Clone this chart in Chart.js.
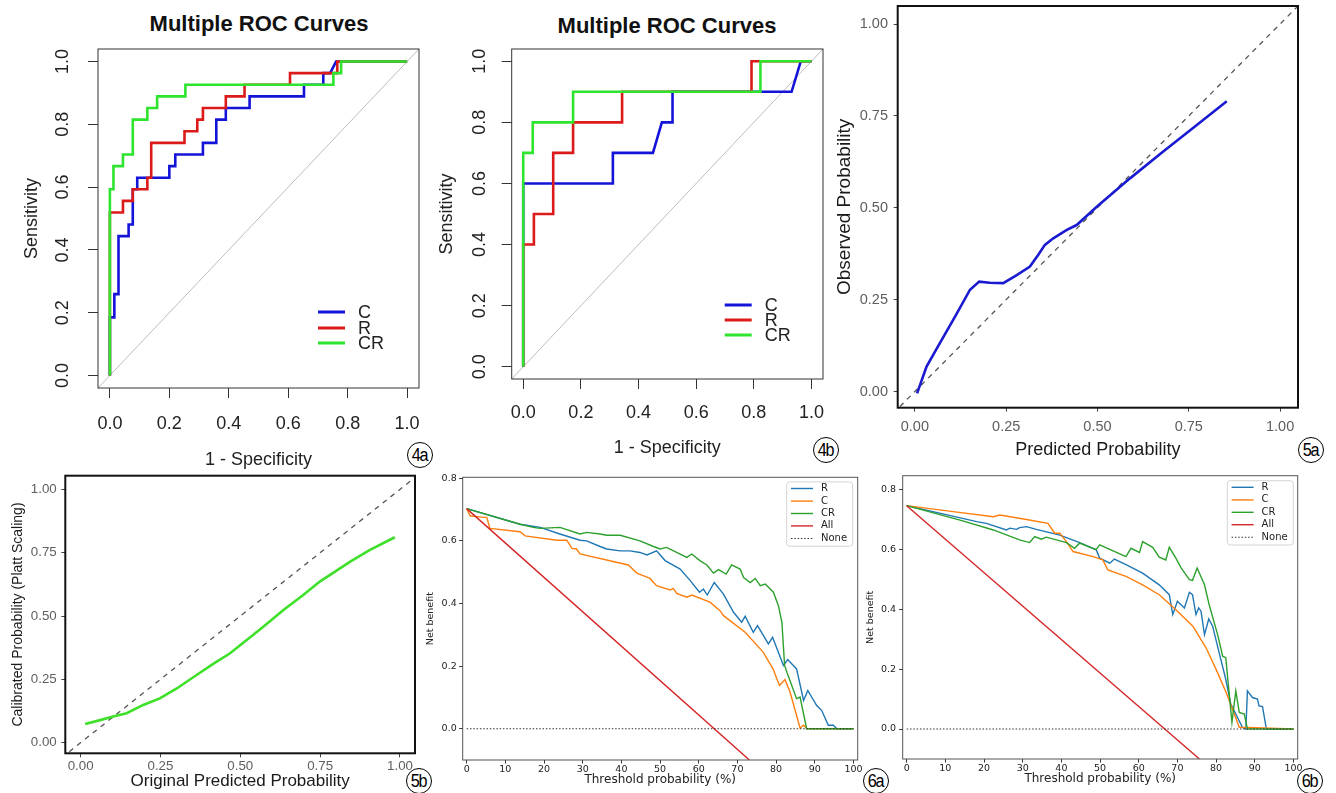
<!DOCTYPE html>
<html>
<head>
<meta charset="utf-8">
<script src="https://cdn.jsdelivr.net/npm/chart.js@4.4.0/dist/chart.umd.min.js"></script>
<style>
  html, body { margin: 0; padding: 0; background: #fff; }
  body { width: 1336px; height: 793px; position: relative; overflow: hidden; font-family: "Liberation Sans", Arial, sans-serif; }
  canvas { position: absolute; }
  .title { position: absolute; font-weight: bold; font-size: 22px; color: #111; white-space: nowrap; transform: translate(-50%, -50%); }
  .tag { position: absolute; width: 26px; height: 26px; border: 1.6px solid #000; border-radius: 50%; box-sizing: border-box;
         transform: translate(-50%, -50%); display: flex; align-items: center; justify-content: center;
         font-size: 18px; letter-spacing: -1.5px; color: #000; background: #fff; }
  .tag span { display: inline-block; transform: scaleX(0.9); margin-left: -1px; }
</style>
</head>
<body>
<div class="title" style="left:259px; top:24px;">Multiple ROC Curves</div>
<div class="title" style="left:667px; top:26px;">Multiple ROC Curves</div>
<div class="tag" style="left:420px; top:455px;"><span>4a</span></div>
<div class="tag" style="left:826px; top:450px;"><span>4b</span></div>
<div class="tag" style="left:1311px; top:450px;"><span>5a</span></div>
<div class="tag" style="left:419px; top:781px;"><span>5b</span></div>
<div class="tag" style="left:876px; top:781px;"><span>6a</span></div>
<div class="tag" style="left:1310px; top:781px;"><span>6b</span></div>
<script>
// ---- data ----
// 4a ROC (1 - specificity, sensitivity)
const roc4aC_fpr = [0, 0, 0.015, 0.015, 0.029, 0.029, 0.063, 0.063, 0.077, 0.077, 0.092, 0.092, 0.2, 0.2, 0.22, 0.22, 0.313, 0.313, 0.358, 0.358, 0.39, 0.39, 0.47, 0.47, 0.653, 0.653, 0.718, 0.718, 0.741, 0.761, 1];
const roc4aC_tpr = [0, 0.185, 0.185, 0.259, 0.259, 0.444, 0.444, 0.481, 0.481, 0.593, 0.593, 0.63, 0.63, 0.667, 0.667, 0.704, 0.704, 0.741, 0.741, 0.815, 0.815, 0.852, 0.852, 0.889, 0.889, 0.926, 0.926, 0.963, 0.963, 1, 1];
const roc4aR_fpr = [0, 0, 0.044, 0.044, 0.077, 0.077, 0.126, 0.126, 0.139, 0.139, 0.251, 0.251, 0.294, 0.294, 0.313, 0.313, 0.39, 0.39, 0.453, 0.453, 0.606, 0.606, 0.765, 0.765, 1];
const roc4aR_tpr = [0, 0.519, 0.519, 0.556, 0.556, 0.593, 0.593, 0.63, 0.63, 0.741, 0.741, 0.778, 0.778, 0.815, 0.815, 0.852, 0.852, 0.889, 0.889, 0.926, 0.926, 0.963, 0.963, 1, 1];
const roc4aCR_fpr = [0, 0, 0.012, 0.012, 0.044, 0.044, 0.077, 0.077, 0.126, 0.126, 0.159, 0.159, 0.254, 0.254, 0.752, 0.752, 0.778, 0.778, 1];
const roc4aCR_tpr = [0, 0.593, 0.593, 0.667, 0.667, 0.704, 0.704, 0.815, 0.815, 0.852, 0.852, 0.889, 0.889, 0.926, 0.926, 0.963, 0.963, 1, 1];

// 4b ROC
const roc4bC_fpr = [0, 0, 0.311, 0.311, 0.45, 0.481, 0.518, 0.518, 0.931, 0.963, 1];
const roc4bC_tpr = [0, 0.6, 0.6, 0.7, 0.7, 0.8, 0.8, 0.9, 0.9, 1, 1];
const roc4bR_fpr = [0, 0, 0.037, 0.037, 0.104, 0.104, 0.173, 0.173, 0.343, 0.343, 0.792, 0.792, 1];
const roc4bR_tpr = [0, 0.4, 0.4, 0.5, 0.5, 0.7, 0.7, 0.8, 0.8, 0.9, 0.9, 1, 1];
const roc4bCR_fpr = [0, 0, 0.033, 0.033, 0.173, 0.173, 0.823, 0.823, 1];
const roc4bCR_tpr = [0, 0.7, 0.7, 0.8, 0.8, 0.9, 0.9, 1, 1];

const rocTicks = [0, 0.2, 0.4, 0.6, 0.8, 1];
const rocDiag = [-0.04, 1.04];
const rocLabels = ['C', 'R', 'CR'];

// 5a calibration
const cal5a_pred = [0.006, 0.032, 0.068, 0.11, 0.151, 0.176, 0.205, 0.242, 0.279, 0.315, 0.338, 0.356, 0.379, 0.416, 0.443, 0.498, 0.589, 0.68, 0.772, 0.854];
const cal5a_obs = [-0.005, 0.068, 0.131, 0.204, 0.277, 0.299, 0.296, 0.295, 0.317, 0.34, 0.372, 0.399, 0.417, 0.44, 0.453, 0.503, 0.58, 0.653, 0.725, 0.79];

// 5b Platt scaling
const platt5b_orig = [0.014, 0.061, 0.102, 0.144, 0.196, 0.248, 0.301, 0.363, 0.415, 0.468, 0.52, 0.572, 0.635, 0.697, 0.749, 0.843, 0.906, 0.984];
const platt5b_cal = [0.074, 0.089, 0.103, 0.116, 0.149, 0.175, 0.214, 0.267, 0.311, 0.353, 0.405, 0.458, 0.524, 0.583, 0.636, 0.714, 0.761, 0.811];

const calTicks = [0, 0.25, 0.5, 0.75, 1];
const calDiag = [-0.06, 1.06];

// 6a decision curves (threshold %, net benefit)
const dca6aR_thr = [0, 13.8, 19, 24.1, 29.3, 31, 34.5, 36.2, 39.7, 42.2, 44.8, 46.6, 49.1, 51.3, 55.2, 57.8, 60.2, 61.2, 62.2, 64, 66.4, 69, 71.1, 72, 74.1, 75.2, 78, 79.1, 81.9, 83, 85.3, 87.1, 88.2, 90.5, 91.8, 93.5, 94.8, 95.7, 100];
const dca6aR_nb = [0.703, 0.653, 0.643, 0.622, 0.602, 0.6, 0.582, 0.574, 0.568, 0.568, 0.563, 0.555, 0.568, 0.537, 0.51, 0.473, 0.436, 0.446, 0.427, 0.467, 0.43, 0.372, 0.34, 0.359, 0.308, 0.329, 0.271, 0.292, 0.202, 0.221, 0.191, 0.09, 0.122, 0.074, 0.058, 0.011, 0.011, 0, 0];
const dca6aC_thr = [0, 0.9, 4.3, 5.2, 6, 13.8, 15.1, 23.3, 25.9, 27.2, 28.4, 29.3, 41.8, 44, 47.4, 49.1, 52.6, 53.4, 54.3, 56.9, 58.2, 62.9, 65.5, 66.4, 72, 76.7, 79.3, 80.2, 80.9, 82.3, 83.6, 85.3, 86.2, 87.1, 88, 100];
const dca6aC_nb = [0.703, 0.68, 0.675, 0.675, 0.64, 0.629, 0.616, 0.602, 0.602, 0.576, 0.574, 0.558, 0.523, 0.497, 0.48, 0.457, 0.443, 0.448, 0.432, 0.42, 0.427, 0.404, 0.377, 0.361, 0.308, 0.244, 0.189, 0.159, 0.138, 0.157, 0.117, 0.042, 0.002, 0.011, 0, 0];
const dca6aCR_thr = [0, 13.8, 17.2, 19, 24.1, 29.3, 31, 34.5, 36.2, 39.7, 44.8, 48.3, 50, 51.7, 56.9, 58.2, 60.3, 62.1, 63.8, 65.1, 67.1, 68.5, 70.7, 71.6, 73.3, 74.6, 75.9, 77.2, 79.3, 80.6, 81.5, 82.2, 82.8, 85.3, 86.2, 87.9, 100];
const dca6aCR_nb = [0.703, 0.653, 0.643, 0.64, 0.643, 0.622, 0.627, 0.622, 0.618, 0.618, 0.6, 0.582, 0.574, 0.579, 0.547, 0.558, 0.537, 0.523, 0.497, 0.508, 0.494, 0.523, 0.51, 0.483, 0.467, 0.48, 0.457, 0.462, 0.436, 0.393, 0.34, 0.202, 0.18, 0.096, 0.101, 0, 0];
const dca6aAll_thr = [0, 73.1];
const dca6aAll_nb = [0.703, -0.1];

// 6b decision curves
const dca6bR_thr = [0, 18.1, 20.6, 25.8, 26.7, 28.4, 29.2, 31, 33.5, 39.6, 44.7, 49, 49.9, 52.5, 53.7, 56.7, 61, 65.3, 67.9, 68.8, 70, 71.8, 73.1, 73.9, 74.8, 75.5, 76.1, 77, 78.1, 79.1, 80.8, 82.5, 83.8, 86.8, 87.7, 88.1, 89.4, 90.7, 91.1, 92, 93, 100];
const dca6bR_nb = [0.745, 0.692, 0.686, 0.664, 0.67, 0.666, 0.672, 0.675, 0.666, 0.647, 0.622, 0.598, 0.57, 0.553, 0.567, 0.548, 0.52, 0.481, 0.448, 0.382, 0.426, 0.404, 0.456, 0.448, 0.382, 0.404, 0.393, 0.315, 0.367, 0.343, 0.254, 0.166, 0.083, 0.006, 0, 0.127, 0.105, 0.1, 0.077, 0.075, 0, 0];
const dca6bC_thr = [0, 12, 22.4, 24.1, 31, 36.5, 38.3, 39.6, 41.3, 43, 48.2, 50.7, 52, 56.7, 61, 65.3, 69.6, 74, 77.4, 80, 82.6, 84.7, 86, 100];
const dca6bC_nb = [0.745, 0.725, 0.708, 0.714, 0.699, 0.686, 0.653, 0.653, 0.625, 0.592, 0.575, 0.564, 0.531, 0.509, 0.481, 0.448, 0.398, 0.343, 0.271, 0.199, 0.122, 0.05, 0.006, 0];
const dca6bCR_thr = [0, 13.8, 22.4, 29.2, 31.8, 33.1, 34.8, 36.1, 41.3, 43.4, 44.7, 49, 49.9, 56.7, 58, 60.2, 61, 63.6, 65.3, 67, 67.9, 69.6, 71, 73.1, 73.9, 75.1, 77, 78.2, 80.4, 81.7, 82.5, 84.1, 85.1, 86, 87.3, 88.1, 100];
const dca6bCR_nb = [0.745, 0.697, 0.664, 0.631, 0.622, 0.642, 0.633, 0.64, 0.622, 0.603, 0.62, 0.598, 0.614, 0.575, 0.603, 0.589, 0.625, 0.606, 0.573, 0.564, 0.606, 0.57, 0.537, 0.498, 0.496, 0.537, 0.481, 0.415, 0.315, 0.243, 0.238, 0.022, 0.127, 0.055, 0.05, 0, 0];
const dca6bAll_thr = [0, 75.7];
const dca6bAll_nb = [0.745, -0.1];

const dcaNone_thr = [0, 100];
const dcaNone_nb = [0, 0];
const dcaXTicks = [0, 10, 20, 30, 40, 50, 60, 70, 80, 90, 100];
const dcaYTicks = [0, 0.2, 0.4, 0.6, 0.8];
const dcaLabels = ['R', 'C', 'CR', 'All', 'None'];

// ---- drawing ----
const FONT_R = '"Liberation Sans", Arial, sans-serif';
const FONT_MPL = '"DejaVu Sans", sans-serif';

const pts = (xs, ys) => xs.map((x, i) => ({ x: x, y: ys[i] }));

function line(label, xs, ys, color, width, order, extra) {
  return Object.assign({
    label: label, data: pts(xs, ys), showLine: true, borderColor: color, backgroundColor: color,
    borderWidth: width, pointRadius: 0, fill: false, order: order
  }, extra || {});
}

function axis(o) {
  return {
    type: 'linear', position: o.pos, min: o.min, max: o.max,
    afterBuildTicks: s => { s.ticks = o.ticks.map(v => ({ value: v })); },
    afterFit: s => {
      if (o.pos === 'bottom') s.height = o.size; else s.width = o.size;
      s.paddingLeft = s.paddingRight = s.paddingTop = s.paddingBottom = 0;
    },
    border: { display: false },
    grid: { drawOnChartArea: false, drawTicks: true, tickLength: o.tickLen, tickColor: o.tickColor, tickWidth: 1, color: o.tickColor },
    ticks: {
      display: !o.sideways, autoSkip: false, padding: o.tickPad || 0, color: o.labelColor,
      font: { family: o.family, size: o.labelSize }, minRotation: 0, maxRotation: 0,
      callback: v => v.toFixed(o.dec)
    },
    title: {
      display: true, text: o.title, color: o.titleColor || '#111',
      font: { family: o.family, size: o.titleSize }, padding: { top: o.titlePad, bottom: o.titlePad }
    }
  };
}

const framePlugin = {
  id: 'frame',
  afterDatasetsDraw(chart, args, o) {
    const { ctx, chartArea: a } = chart;
    ctx.save();
    ctx.strokeStyle = o.color;
    ctx.lineWidth = o.width;
    ctx.strokeRect(a.left, a.top, a.right - a.left, a.bottom - a.top);
    ctx.restore();
  }
};

// R draws y tick labels parallel to the axis, reading upwards
const sideLabelsPlugin = {
  id: 'sideLabels',
  afterDraw(chart, args, o) {
    if (!o || !o.dist) return;
    const { ctx, chartArea: a } = chart;
    const s = chart.scales.y;
    ctx.save();
    ctx.font = o.size + 'px ' + FONT_R;
    ctx.fillStyle = '#222';
    ctx.textAlign = 'center';
    ctx.textBaseline = 'middle';
    s.ticks.forEach(t => {
      ctx.save();
      ctx.translate(a.left - o.dist, s.getPixelForValue(t.value));
      ctx.rotate(-Math.PI / 2);
      ctx.fillText(t.value.toFixed(1), 0, 0);
      ctx.restore();
    });
    ctx.restore();
  }
};

// R style legend: plain line segments and text inside the plot
const rLegendPlugin = {
  id: 'rLegend',
  afterDatasetsDraw(chart, args, o) {
    if (!o || !o.rows) return;
    const { ctx, chartArea: a } = chart;
    const items = chart.data.datasets.filter(d => d.inKey);
    ctx.save();
    ctx.font = o.size + 'px ' + FONT_R;
    ctx.textBaseline = 'middle';
    ctx.textAlign = 'left';
    items.forEach((d, i) => {
      const y = a.top + o.rows[i];
      ctx.strokeStyle = d.borderColor;
      ctx.lineWidth = o.lineWidth;
      ctx.beginPath(); ctx.moveTo(a.left + o.x0, y); ctx.lineTo(a.left + o.x1, y); ctx.stroke();
      ctx.fillStyle = '#222';
      ctx.fillText(d.label, a.left + o.tx, y + 1);
    });
    ctx.restore();
  }
};

// matplotlib style legend box in the upper right corner
const mplLegendPlugin = {
  id: 'mplLegend',
  afterDatasetsDraw(chart, args, o) {
    if (!o || !o.w) return;
    const { ctx, chartArea: a } = chart;
    const bx = a.right - o.right - o.w, by = a.top + o.top;
    ctx.save();
    ctx.beginPath();
    ctx.roundRect(bx, by, o.w, o.h, 3);
    ctx.fillStyle = 'rgba(255,255,255,0.85)';
    ctx.fill();
    ctx.strokeStyle = '#d4d4d4';
    ctx.lineWidth = 1;
    ctx.stroke();
    ctx.font = o.size + 'px ' + FONT_MPL;
    ctx.textBaseline = 'middle';
    chart.data.datasets.forEach((d, i) => {
      const y = by + o.rows[i];
      ctx.strokeStyle = d.borderColor;
      ctx.lineWidth = d.borderWidth;
      ctx.setLineDash(d.borderDash || []);
      ctx.beginPath(); ctx.moveTo(bx + o.x0, y); ctx.lineTo(bx + o.x1, y); ctx.stroke();
      ctx.setLineDash([]);
      ctx.fillStyle = '#222';
      ctx.fillText(d.label, bx + o.tx, y);
    });
    ctx.restore();
  }
};

function panel(p) {
  const [rx, ry, rw, rh] = p.rect;
  const [bl, bt, br, bb] = p.box;
  const cv = document.createElement('canvas');
  cv.width = rw; cv.height = rh;
  cv.style.left = rx + 'px'; cv.style.top = ry + 'px';
  document.body.appendChild(cv);
  p.x.pos = 'bottom'; p.x.size = ry + rh - bb;
  p.y.pos = 'left'; p.y.size = bl - rx;
  return new Chart(cv, {
    type: 'scatter',
    data: { datasets: p.datasets },
    plugins: [framePlugin, rLegendPlugin, mplLegendPlugin, sideLabelsPlugin],
    options: {
      responsive: false, animation: false, devicePixelRatio: 1,
      layout: { padding: { left: 0, top: bt - ry, right: rx + rw - br, bottom: 0 } },
      scales: { x: axis(p.x), y: axis(p.y) },
      elements: { point: { radius: 0 }, line: { tension: 0 } },
      plugins: {
        legend: { display: false }, tooltip: { enabled: false },
        frame: p.frame, rLegend: p.rLegend || {}, mplLegend: p.mplLegend || {}, sideLabels: p.sideLabels || {}
      }
    }
  });
}

const R_BLUE = '#1414d8', R_RED = '#dc1a1a', R_GREEN = '#2ee42e';

function rocAxes(xo, yo) {
  const base = { min: -0.04, max: 1.04, ticks: rocTicks, dec: 1, family: FONT_R, labelSize: 18, labelColor: '#222',
                 tickLen: 10, tickColor: '#333', titleSize: 18, titleColor: '#222' };
  return { x: Object.assign({}, base, xo, { title: '1 - Specificity' }), y: Object.assign({}, base, yo, { sideways: true, title: 'Sensitivity' }) };
}

// 4a
const ax4a = rocAxes({ tickPad: 15, titlePad: 4 }, { titlePad: 21 });
panel({
  rect: [0, 30, 440, 445], box: [98, 49, 419, 388], x: ax4a.x, y: ax4a.y,
  frame: { color: '#333', width: 1 },
  sideLabels: { dist: 35, size: 18 },
  rLegend: { rows: [263, 279, 294], x0: 220, x1: 247, tx: 260, size: 18, lineWidth: 3 },
  datasets: [
    line(rocLabels[0], roc4aC_fpr, roc4aC_tpr, R_BLUE, 2.6, 3, { inKey: true }),
    line(rocLabels[1], roc4aR_fpr, roc4aR_tpr, R_RED, 2.6, 2, { inKey: true }),
    line(rocLabels[2], roc4aCR_fpr, roc4aCR_tpr, R_GREEN, 2.6, 1, { inKey: true }),
    line('diag', rocDiag, rocDiag, '#bdbdbd', 1, 9, { clip: 0 })
  ]
});

// 4b
const ax4b = rocAxes({ tickPad: 13, titlePad: 6.2 }, { titlePad: 11.2 });
panel({
  rect: [425, 30, 415, 435], box: [511.7, 49, 823, 379], x: ax4b.x, y: ax4b.y,
  frame: { color: '#333', width: 1 },
  sideLabels: { dist: 31.7, size: 18 },
  rLegend: { rows: [256, 271, 286], x0: 213, x1: 240, tx: 253, size: 18, lineWidth: 3 },
  datasets: [
    line(rocLabels[0], roc4bC_fpr, roc4bC_tpr, R_BLUE, 2.6, 3, { inKey: true }),
    line(rocLabels[1], roc4bR_fpr, roc4bR_tpr, R_RED, 2.6, 2, { inKey: true }),
    line(rocLabels[2], roc4bCR_fpr, roc4bCR_tpr, R_GREEN, 2.6, 1, { inKey: true }),
    line('diag', rocDiag, rocDiag, '#bdbdbd', 1, 9, { clip: 0 })
  ]
});

// 5a
panel({
  rect: [830, 0, 506, 470], box: [897.7, 6, 1298, 407.7],
  x: { min: -0.047, max: 1.049, ticks: calTicks, dec: 2, family: FONT_R, labelSize: 14.5, labelColor: '#5e5e5e',
       tickLen: 4, tickColor: '#444', tickPad: 6.6, title: 'Predicted Probability', titleSize: 18, titlePad: 9.2, titleColor: '#1a1a1a' },
  y: { min: -0.044, max: 1.049, ticks: calTicks, dec: 2, family: FONT_R, labelSize: 14.5, labelColor: '#5e5e5e',
       tickLen: 4, tickColor: '#444', tickPad: 5.7, title: 'Observed Probability', titleSize: 19, titlePad: 3.6, titleColor: '#1a1a1a' },
  frame: { color: '#111', width: 2 },
  datasets: [
    line('Calibration', cal5a_pred, cal5a_obs, '#1a1ad0', 2.6, 1),
    line('Ideal', calDiag, calDiag, '#555', 1.3, 2, { borderDash: [5, 5], clip: 0 })
  ]
});

// 5b
panel({
  rect: [0, 470, 430, 323], box: [65.3, 475.7, 415, 753.3],
  x: { min: -0.048, max: 1.047, ticks: calTicks, dec: 2, family: FONT_R, labelSize: 13.3, labelColor: '#5e5e5e',
       tickLen: 4, tickColor: '#444', tickPad: 0.7, title: 'Original Predicted Probability', titleSize: 17, titlePad: 1.1, titleColor: '#1a1a1a' },
  y: { min: -0.042, max: 1.054, ticks: calTicks, dec: 2, family: FONT_R, labelSize: 13.3, labelColor: '#5e5e5e',
       tickLen: 4, tickColor: '#444', tickPad: 4.6, title: 'Calibrated Probability (Platt Scaling)', titleSize: 14, titlePad: 9.6, titleColor: '#1a1a1a' },
  frame: { color: '#111', width: 2 },
  datasets: [
    line('Platt', platt5b_orig, platt5b_cal, '#3ee02a', 2.6, 1),
    line('Ideal', calDiag, calDiag, '#555', 1.3, 2, { borderDash: [5, 5], clip: 0 })
  ]
});

function dcaAxes(ymax, xo, yo) {
  const base = { family: FONT_MPL, labelSize: 9.5, labelColor: '#222', tickLen: 3.5, tickColor: '#333', titleColor: '#222' };
  return {
    x: Object.assign({}, base, { min: -1.03, max: 101.1, ticks: dcaXTicks, dec: 0, tickPad: 0, title: 'Threshold probability (%)', titleSize: 12 }, xo),
    y: Object.assign({}, base, { min: -0.1, max: ymax, ticks: dcaYTicks, dec: 1, title: 'Net benefit', titleSize: 9.5 }, yo)
  };
}

const mplLeg = { right: 5, top: 4.6, w: 66, h: 64.3, rows: [6.6, 19.2, 31.6, 44, 56.6], x0: 4.3, x1: 26.3, tx: 34.3, size: 10 };

// 6a
const ax6a = dcaAxes(0.803, { titlePad: 5.8 }, { tickPad: 2.5, titlePad: 5 });
panel({
  rect: [420, 470, 446, 323], box: [462.7, 477.3, 857.7, 760], x: ax6a.x, y: ax6a.y,
  frame: { color: '#555', width: 1 },
  mplLegend: mplLeg,
  datasets: [
    line(dcaLabels[0], dca6aR_thr, dca6aR_nb, '#1f77b4', 1.4, 5),
    line(dcaLabels[1], dca6aC_thr, dca6aC_nb, '#ff7f0e', 1.4, 4),
    line(dcaLabels[2], dca6aCR_thr, dca6aCR_nb, '#2ca02c', 1.4, 3),
    line(dcaLabels[3], dca6aAll_thr, dca6aAll_nb, '#d62728', 1.4, 2),
    line(dcaLabels[4], dcaNone_thr, dcaNone_nb, '#333', 1.1, 1, { borderDash: [1.5, 1.8] })
  ]
});

// 6b
const ax6b = dcaAxes(0.845, { titlePad: 6.8 }, { tickPad: 3.2, titlePad: 5 });
panel({
  rect: [860, 470, 476, 323], box: [902.7, 475.7, 1297.7, 759], x: ax6b.x, y: ax6b.y,
  frame: { color: '#555', width: 1 },
  mplLegend: Object.assign({}, mplLeg, { right: 4.4, top: 5 }),
  datasets: [
    line(dcaLabels[0], dca6bR_thr, dca6bR_nb, '#1f77b4', 1.4, 5),
    line(dcaLabels[1], dca6bC_thr, dca6bC_nb, '#ff7f0e', 1.4, 4),
    line(dcaLabels[2], dca6bCR_thr, dca6bCR_nb, '#2ca02c', 1.4, 3),
    line(dcaLabels[3], dca6bAll_thr, dca6bAll_nb, '#d62728', 1.4, 2),
    line(dcaLabels[4], dcaNone_thr, dcaNone_nb, '#333', 1.1, 1, { borderDash: [1.5, 1.8] })
  ]
});
</script>
</body>
</html>
